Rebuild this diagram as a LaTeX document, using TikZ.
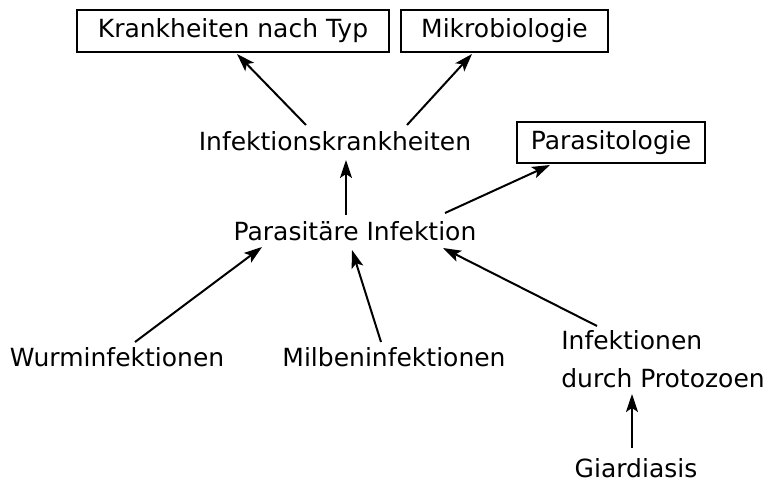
\documentclass[tikz,border=0pt]{standalone}
\usepackage{fontspec}
\setmainfont{DejaVu Sans}
\usetikzlibrary{arrows.meta}
\begin{document}
\begin{tikzpicture}[x=1pt,y=-1pt,
  lbl/.style={font=\fontsize{25}{30}\selectfont, inner sep=0pt, anchor=center},
  boxed/.style={lbl, draw, line width=1.5pt, inner sep=0pt},
  link/.style={line width=2pt, -{Stealth[length=18pt,width=12pt,inset=4pt]}}]
\useasboundingbox (0,0) rectangle (769,497);
% category boxes
\node[boxed, minimum width=312pt, minimum height=42pt] (typ) at (233,31) {Krankheiten nach Typ};
\node[boxed, minimum width=207pt, minimum height=42pt] (mikro) at (504.5,31) {Mikrobiologie};
\node[boxed, minimum width=188pt, minimum height=41pt] (para) at (611,142.5) {Parasitologie};
% topic labels
\node[lbl] (ik) at (335,141) {Infektionskrankheiten};
\node[lbl] (pi) at (355,231) {Parasitäre Infektion};
\node[lbl] (wurm) at (117,357) {Wurminfektionen};
\node[lbl] (milb) at (394,357) {Milbeninfektionen};
\node[lbl, align=left, font=\fontsize{25}{38}\selectfont] (proto) at (663,359) {Infektionen\\durch Protozoen};
\node[lbl] (giar) at (636,468) {Giardiasis};
% connector end points on the label edges
\coordinate (ikL) at (306,125);
\coordinate (ikR) at (407,125);
\coordinate (ikB) at (346,160);
\coordinate (typB) at (237,54);
\coordinate (mikroB) at (472,54);
\coordinate (paraB) at (550,165);
\coordinate (piT) at (346,215);
\coordinate (piR) at (445,213);
\coordinate (piL) at (262,247);
\coordinate (piB) at (352,250);
\coordinate (piBR) at (443,248);
\coordinate (wurmT) at (135,342);
\coordinate (milbT) at (381,342);
\coordinate (protoT) at (597,326);
\coordinate (protoB) at (632,394);
\coordinate (giarT) at (632,448);
% connectors
\draw[link] (ikL) -- (typB);
\draw[link] (ikR) -- (mikroB);
\draw[link] (piT) -- (ikB);
\draw[link] (piR) -- (paraB);
\draw[link] (wurmT) -- (piL);
\draw[link] (milbT) -- (piB);
\draw[link] (protoT) -- (piBR);
\draw[link] (giarT) -- (protoB);
\end{tikzpicture}
\end{document}
